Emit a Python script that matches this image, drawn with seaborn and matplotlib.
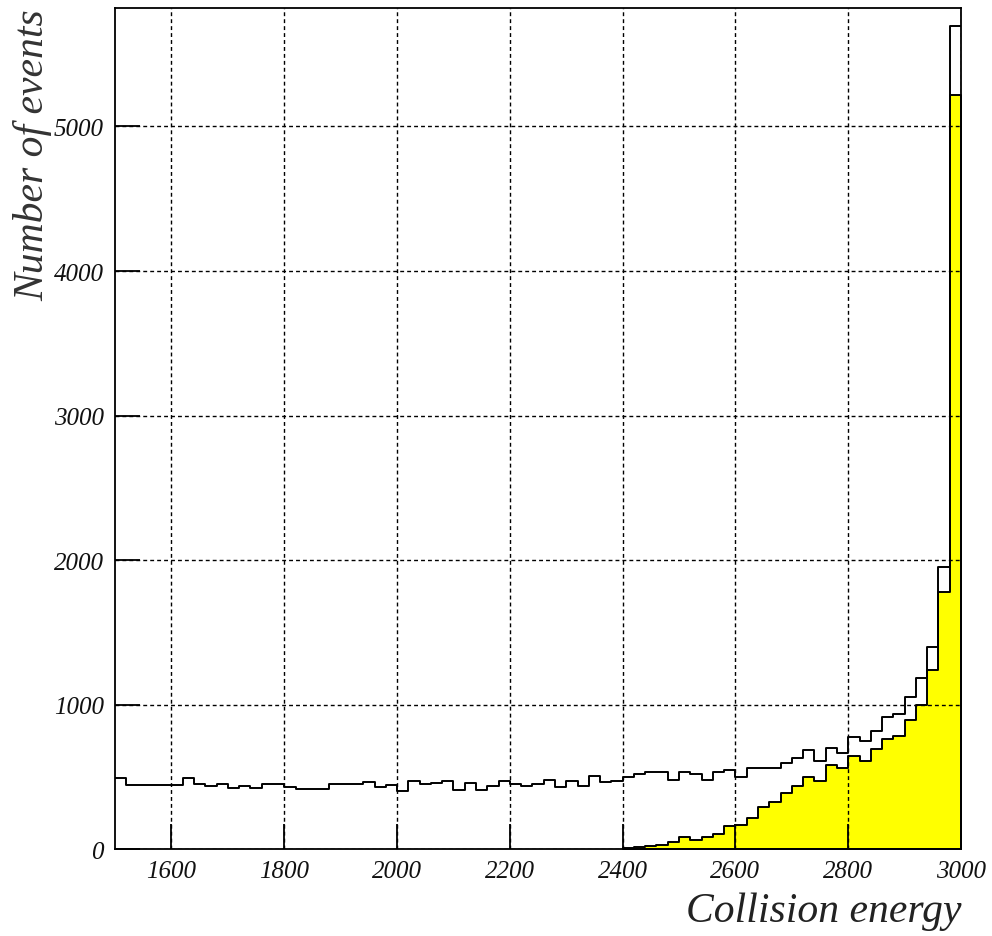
import matplotlib
matplotlib.use("Agg")
import matplotlib.pyplot as plt
import numpy as np
import pandas as pd
import seaborn as sns

# bin edges: 20-unit bins from 1500 to 3000
bin_lo = list(range(1500, 3000, 20))

# all events (open histogram)
total_counts = [495, 444, 444, 444, 444, 444, 492, 449, 433, 451,
                422, 436, 422, 450, 450, 428, 414, 414, 414, 449,
                449, 449, 463, 426, 445, 405, 474, 451, 460, 474,
                410, 456, 410, 433, 474, 451, 437, 451, 481, 426,
                472, 433, 506, 465, 474, 502, 520, 532, 532, 481,
                532, 520, 479, 532, 550, 502, 559, 559, 559, 594,
                633, 682, 612, 697, 663, 778, 751, 820, 916, 932,
                1050, 1186, 1400, 1952, 5697]

# selected events (yellow histogram), starting at 2400
sel_lo = list(range(2400, 3000, 20))
sel_counts = [10, 15, 20, 30, 46, 81, 60, 81, 104, 157,
              168, 214, 290, 325, 391, 433, 502, 472, 582, 559,
              644, 606, 691, 760, 785, 893, 997, 1238, 1780, 5221]

x_ticks = [1600, 1800, 2000, 2200, 2400, 2600, 2800, 3000]
y_ticks = [0, 1000, 2000, 3000, 4000, 5000]

df_all = pd.DataFrame({"energy": np.array(bin_lo) + 10, "n": total_counts})
df_sel = pd.DataFrame({"energy": np.array(sel_lo) + 10, "n": sel_counts})

sns.set_style("white")
plt.rcParams["font.family"] = ["Liberation Serif", "DejaVu Serif"]
plt.rcParams["font.style"] = "italic"

fig = plt.figure(figsize=(9.92, 9.37), dpi=100)
ax = fig.add_axes([0.116, 0.0928, 0.8528, 0.8976])

sns.histplot(data=df_sel, x="energy", weights="n", binwidth=20, binrange=(2400, 3000),
             element="step", fill=True, color="#ffff00", alpha=1.0,
             edgecolor="black", linewidth=1.4, ax=ax)
sns.histplot(data=df_all, x="energy", weights="n", binwidth=20, binrange=(1500, 3000),
             element="step", fill=False, color="black", linewidth=1.4, ax=ax)

ax.set_xlim(1500, 3000)
ax.set_ylim(0, 5820)
ax.set_xticks(x_ticks)
ax.set_yticks(y_ticks)
ax.set_xticklabels([str(t) for t in x_ticks], fontsize=18, style="italic")
ax.set_yticklabels([str(t) for t in y_ticks], fontsize=18, style="italic")

ax.set_axisbelow(False)
ax.grid(True, color="black", linewidth=1.0, linestyle=(0, (2.8, 2.2)))
ax.tick_params(direction="in", length=18, width=1.3, color="black", pad=8,
               labelcolor="#111111", bottom=True, left=True, top=False, right=False)

for s in ax.spines.values():
    s.set_visible(True)
    s.set_color("black")
    s.set_linewidth(1.3)

ax.set_xlabel("Collision energy", fontsize=30, style="italic", loc="right",
              labelpad=7, color="#222222")
ax.set_ylabel("Number of events", fontsize=30, style="italic", loc="top",
              labelpad=1, color="#333333")

fig.savefig("out.png", dpi=100)
